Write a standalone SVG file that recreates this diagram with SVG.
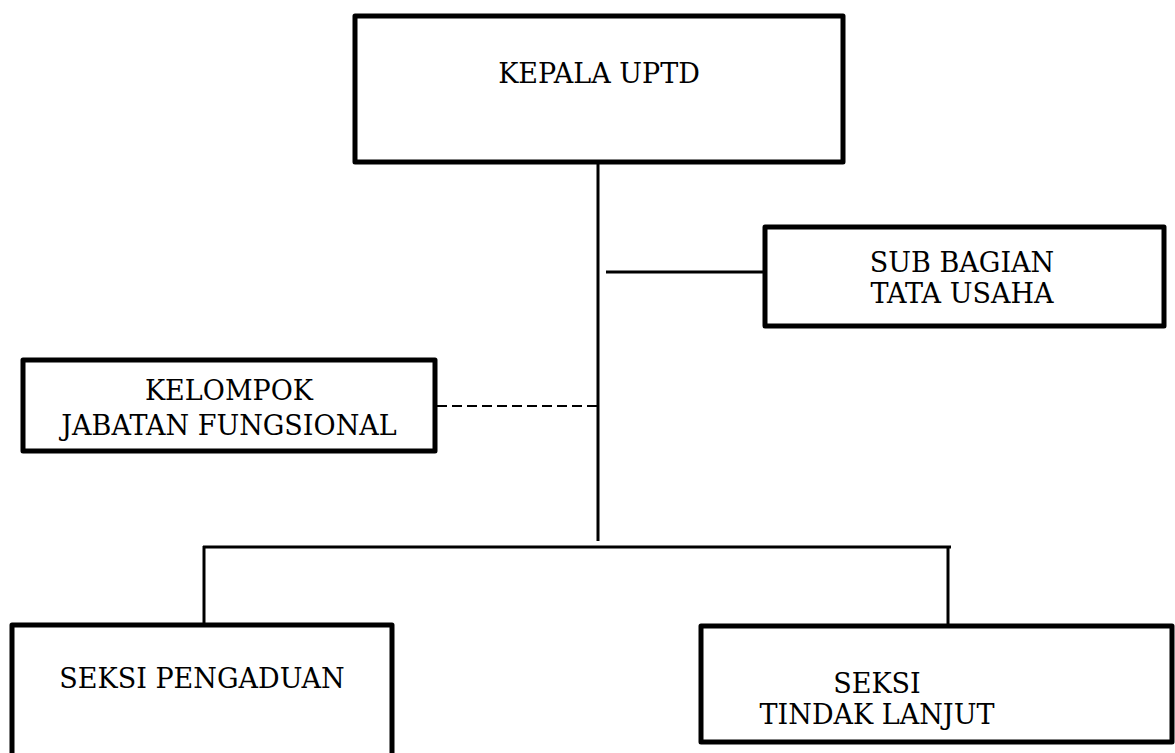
<svg xmlns="http://www.w3.org/2000/svg" width="1175" height="753" viewBox="0 0 1175 753">
<style>
.box{fill:#fff;stroke:#000;stroke-width:5;stroke-linejoin:round}
.ln{stroke:#000;stroke-width:3;fill:none}
.dash{stroke:#000;stroke-width:2;fill:none;stroke-dasharray:10 5}
text{font-family:"DejaVu Serif","Liberation Serif",serif;font-size:27px;fill:#000;text-anchor:middle}
</style>
<rect width="1175" height="753" fill="#fff"/>
<g id="connectors">
<line class="ln" x1="598" y1="164" x2="598" y2="541"/>
<line class="ln" x1="606" y1="272" x2="763" y2="272"/>
<line class="dash" x1="437" y1="406" x2="597" y2="406"/>
<line class="ln" x1="203" y1="547" x2="951" y2="547"/>
<line class="ln" x1="204" y1="546" x2="204" y2="623"/>
<line class="ln" x1="948" y1="546" x2="948" y2="624"/>
</g>
<g id="kepala">
<rect class="box" x="355" y="16" width="488" height="146"/>
<text x="599" y="83">KEPALA UPTD</text>
</g>
<g id="subbagian">
<rect class="box" x="765" y="227" width="399" height="99"/>
<text x="962" y="272">SUB BAGIAN</text>
<text x="962" y="303">TATA USAHA</text>
</g>
<g id="kelompok">
<rect class="box" x="23" y="360" width="412" height="91"/>
<text x="229" y="400">KELOMPOK</text>
<text x="229" y="435">JABATAN FUNGSIONAL</text>
</g>
<g id="pengaduan">
<rect class="box" x="12" y="625" width="380" height="140"/>
<text x="202" y="688">SEKSI PENGADUAN</text>
</g>
<g id="tindaklanjut">
<rect class="box" x="701" y="626" width="471" height="116"/>
<text x="877" y="693">SEKSI</text>
<text x="877" y="724">TINDAK LANJUT</text>
</g>
</svg>
